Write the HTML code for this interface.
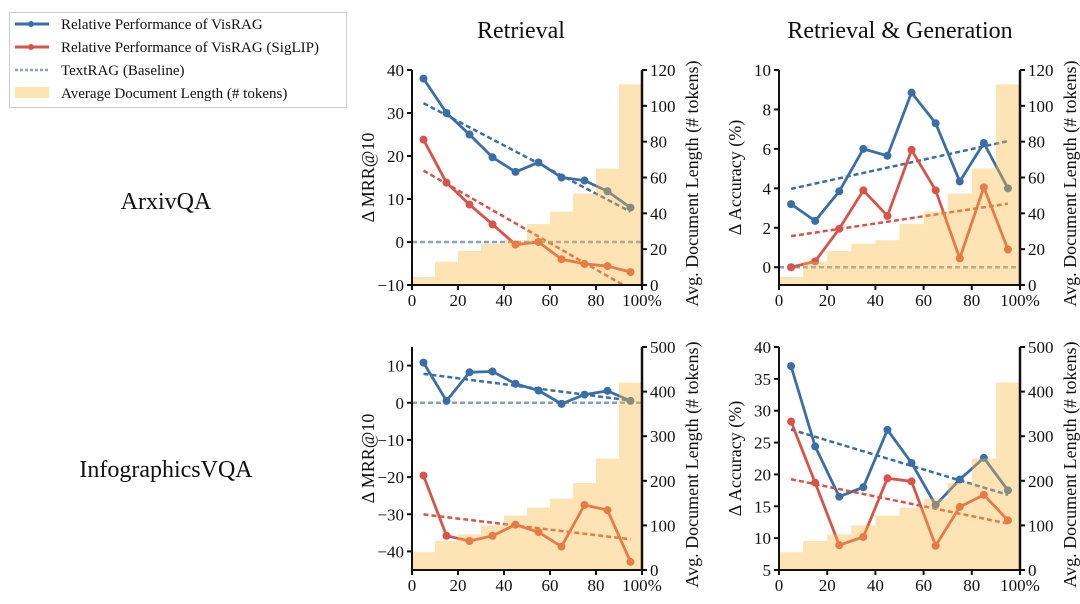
<!DOCTYPE html>
<html><head><meta charset="utf-8">
<style>
body{margin:0;background:#fff;width:1080px;height:599px;overflow:hidden;font-family:"Liberation Serif",serif;}
svg text{font-family:"Liberation Serif",serif;fill:#111;}
</style></head>
<body>
<svg id="fig" width="1080" height="599" viewBox="0 0 1080 599">
<g>
<rect x="9.5" y="12.5" width="337" height="95" fill="#fff" stroke="#ccc"/>
<g><line x1="15" y1="24" x2="49" y2="24" stroke="#3a6ea8" stroke-width="3"/><circle cx="31" cy="24" r="3" fill="#3a6ea8"/><text x="61" y="29" font-size="15">Relative Performance of VisRAG</text></g>
<g><line x1="15" y1="47" x2="49" y2="47" stroke="#d9534a" stroke-width="3"/><circle cx="31" cy="47" r="3" fill="#d9534a"/><text x="61" y="52" font-size="15">Relative Performance of VisRAG (SigLIP)</text></g>
<g><line x1="15" y1="70" x2="49" y2="70" stroke="#8aa3ba" stroke-width="2.5" stroke-dasharray="3,2"/><text x="61" y="75" font-size="15">TextRAG (Baseline)</text></g>
<g><rect x="15" y="87" width="34" height="11" fill="#fee3b5"/><text x="61" y="98" font-size="15">Average Document Length (# tokens)</text></g>
</g>
<text x="521" y="38" font-size="24" text-anchor="middle">Retrieval</text>
<text x="900" y="38" font-size="24" text-anchor="middle">Retrieval &amp; Generation</text>
<text x="166" y="209" font-size="24" text-anchor="middle">ArxivQA</text>
<text x="166" y="477" font-size="24" text-anchor="middle">InfographicsVQA</text>
</svg>
<script>
const binsX = [5,15,25,35,45,55,65,75,85,95];
const arxivLen = [4.5,13,19,23,25,34,41,51,65,112];
const infoLen = [40,65,80,100,122,140,160,195,250,420];
const p1Blue = [38,30,25,19.7,16.3,18.5,15,14.3,11.8,8];
const p1Red = [23.8,13.8,8.7,4.1,-0.6,0,-4,-5.1,-5.6,-7];
const p2Blue = [3.2,2.35,3.85,6.0,5.65,8.85,7.3,4.35,6.3,4.0];
const p2Red = [0,0.3,1.95,3.9,2.6,5.95,3.9,0.45,4.05,0.9];
const p3Blue = [10.8,0.5,8.2,8.4,5.1,3.3,-0.3,2.2,3.2,0.5];
const p3Red = [-19.6,-35.8,-37.2,-35.8,-32.8,-34.8,-38.7,-27.5,-28.9,-42.8];
const p4Blue = [37,24.4,16.5,18,27,21.8,15.2,19.2,22.6,17.5];
const p4Red = [28.3,18.7,8.9,10.2,19.4,18.9,8.8,14.9,16.8,12.8];
const xTicks = [0,20,40,60,80,100];
const p1Ticks = [-10,0,10,20,30,40];
const p2Ticks = [0,2,4,6,8,10];
const p3Ticks = [-40,-30,-20,-10,0,10];
const p4Ticks = [5,10,15,20,25,30,35,40];
const arxivRTicks = [0,20,40,60,80,100,120];
const infoRTicks = [0,100,200,300,400,500];

const NS='http://www.w3.org/2000/svg';
const fig=document.getElementById('fig');
function mk(tag,attrs,parent){const e=document.createElementNS(NS,tag);for(const k in attrs)e.setAttribute(k,attrs[k]);(parent||fig).appendChild(e);return e;}
function fit(xs,ys){const n=xs.length;let mx=0,my=0;for(let i=0;i<n;i++){mx+=xs[i];my+=ys[i];}mx/=n;my/=n;let a=0,b=0;for(let i=0;i<n;i++){a+=(xs[i]-mx)*(ys[i]-my);b+=(xs[i]-mx)**2;}const s=a/b;return [s,my-s*mx];}

function panel(id,L,R,T,B,ymin,ymax,yticks,rmax,rticks,lens,blue,red,ylabel){
  const g=mk('g',{});
  
  
  const sx=v=>L+(v-0)/100*(R-L);
  const sy=v=>B-(v-ymin)/(ymax-ymin)*(B-T);
  const sr=v=>B-v/rmax*(B-T);
  const cp='cp-'+id;
  const defs=mk('defs',{},g);const c=mk('clipPath',{id:cp},defs);mk('rect',{x:L,y:T,width:R-L,height:B-T},c);
  const plot=mk('g',{'clip-path':'url(#'+cp+')'},g);
  const bl=mk('line',{x1:sx(0),x2:sx(100),y1:sy(0),y2:sy(0),stroke:'#8aa3ba','stroke-width':2.5,'stroke-dasharray':'5,3'},plot);
  
  
  [[blue,'#3a6ea8','visrag'],[red,'#d9534a','siglip']].forEach(([d,col,nm])=>{
    const [s,b0]=fit(binsX,d);
    const tl=mk('line',{x1:sx(5),y1:sy(s*5+b0),x2:sx(95),y2:sy(s*95+b0),stroke:col,'stroke-width':2.5,'stroke-dasharray':'5,3'},plot);
    
    
    const pl=mk('polyline',{points:binsX.map((x,i)=>sx(x)+','+sy(d[i])).join(' '),fill:'none',stroke:col,'stroke-width':2.8,'stroke-linejoin':'round'},plot);
    
    
    d.forEach((v,i)=>{const p=mk('circle',{cx:sx(binsX[i]),cy:sy(v),r:4,fill:col},plot);
      
      });
  });
  lens.forEach((v,i)=>{const r=mk('rect',{x:sx(binsX[i]-5),y:sr(v),width:sx(10)-sx(0),height:B-sr(v),fill:'#fdb845','fill-opacity':0.4},plot);
    
    });
  const ax=mk('g',{stroke:'#111','stroke-width':2},g);
  
  
  mk('line',{x1:L,y1:T,x2:L,y2:B+1},ax);mk('line',{x1:L-1,y1:B,x2:R+1,y2:B},ax);mk('line',{x1:R,y1:T,x2:R,y2:B+1,'stroke-width':2.5},ax);
  xTicks.forEach(t=>{mk('line',{x1:sx(t),x2:sx(t),y1:B,y2:B+5},ax);
    const tx=mk('text',{x:sx(t),y:B+21,'font-size':17,'text-anchor':'middle',stroke:'none'},g);tx.textContent=t===100?'100%':t;
    });
  yticks.forEach(t=>{mk('line',{x1:L-5,x2:L,y1:sy(t),y2:sy(t)},ax);
    const tx=mk('text',{x:L-8,y:sy(t)+6,'font-size':17,'text-anchor':'end'},g);tx.textContent=t<0?'\u2212'+(-t):t;
    });
  rticks.forEach(t=>{mk('line',{x1:R,x2:R+5,y1:sr(t),y2:sr(t)},ax);
    const tx=mk('text',{x:R+8,y:sr(t)+6,'font-size':17},g);tx.textContent=t;
    });
  const yl=mk('text',{transform:`translate(${L-38},${(T+B)/2}) rotate(-90)`,'font-size':18,'text-anchor':'middle'},g);yl.textContent=ylabel;
  
  const rl=mk('text',{transform:`translate(${R+56},${(T+B)/2+6}) rotate(-90)`,'font-size':18,'text-anchor':'middle'},g);rl.textContent='Avg. Document Length (# tokens)';
  
}
panel('panel-arxiv-retrieval',412,642,70,285,-10,40,p1Ticks,120,arxivRTicks,arxivLen,p1Blue,p1Red,'\u0394 MRR@10');
panel('panel-arxiv-generation',779,1020,70,285,-0.9,10,p2Ticks,120,arxivRTicks,arxivLen,p2Blue,p2Red,'\u0394 Accuracy (%)');
panel('panel-info-retrieval',412,642,347,570,-45,15,p3Ticks,500,infoRTicks,infoLen,p3Blue,p3Red,'\u0394 MRR@10');
panel('panel-info-generation',779,1020,347,570,5,40,p4Ticks,500,infoRTicks,infoLen,p4Blue,p4Red,'\u0394 Accuracy (%)');
</script>
</body></html>
